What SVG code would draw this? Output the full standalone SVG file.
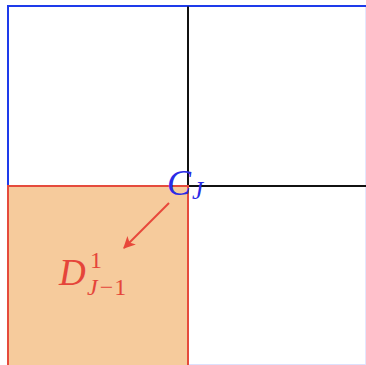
<svg xmlns="http://www.w3.org/2000/svg" width="366" height="365" viewBox="0 0 366 365">
<defs>
<style>
.lbl{font-family:"Liberation Serif","DejaVu Serif",serif;font-style:italic}
.up{font-style:normal}
</style>
<marker id="ah" viewBox="0 0 10 10" refX="9" refY="5" markerWidth="6" markerHeight="6" orient="auto" markerUnits="strokeWidth">
<path d="M0,0 L10,5 L0,10 L2.5,5 z" fill="#E8483A"/>
</marker>
</defs>
<rect width="366" height="365" fill="#fff"/>
<g id="outer">
<line x1="365.5" y1="6" x2="365.5" y2="365" stroke="#E4E6FE" stroke-width="1"/>
<line x1="8" y1="364.5" x2="366" y2="364.5" stroke="#DDE0FC" stroke-width="1"/>
<line x1="8" y1="6" x2="366" y2="6" stroke="#1E3BEA" stroke-width="2"/>
<line x1="8" y1="5" x2="8" y2="186" stroke="#1E3BEA" stroke-width="2"/>
</g>
<g id="grid">
<line x1="188" y1="6.5" x2="188" y2="186" stroke="#111" stroke-width="2"/>
<line x1="188" y1="186" x2="366" y2="186" stroke="#111" stroke-width="2"/>
</g>
<g id="D">
<rect x="8" y="186" width="180" height="180" fill="#F6CB9C" stroke="#E54B3C" stroke-width="2"/>
<text class="lbl" x="59" y="285" font-size="37" fill="#E5453A">D</text>
<text class="lbl up" x="90" y="268" font-size="24" fill="#E5453A">1</text>
<text class="lbl" x="87" y="295" font-size="24" fill="#E5453A">J<tspan class="up" dx="2">−</tspan><tspan class="up" dx="1">1</tspan></text>
</g>
<g id="C">
<text class="lbl" x="167" y="195" font-size="36" fill="#2A2BE6">C</text>
<text class="lbl" x="192" y="199" font-size="25" fill="#2A2BE6">J</text>
</g>
<g id="connectors">
<line x1="169" y1="203" x2="124" y2="248" stroke="#E8483A" stroke-width="2" marker-end="url(#ah)"/>
</g>
</svg>
